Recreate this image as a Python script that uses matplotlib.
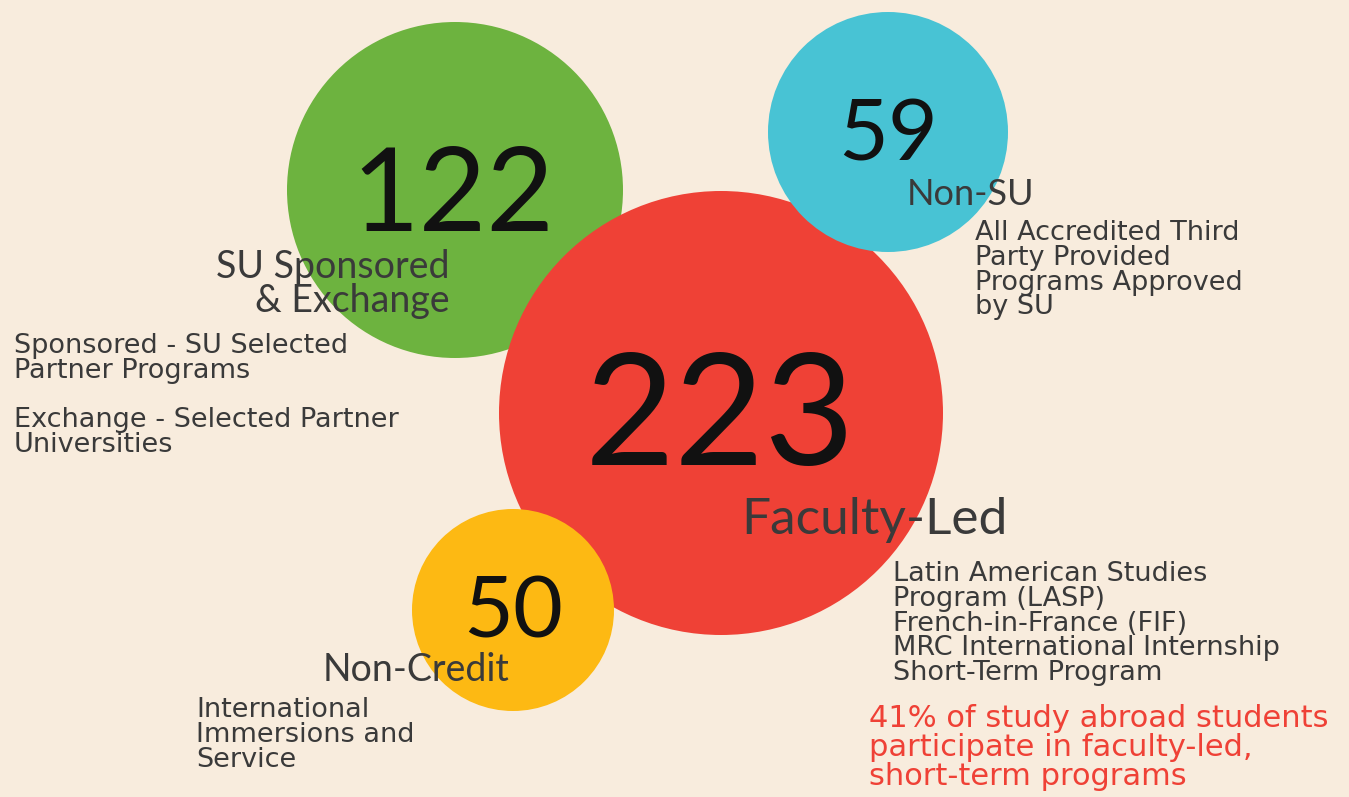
import matplotlib.pyplot as plt
from matplotlib.patches import Circle

plt.rcParams['font.family'] = ['Lato', 'DejaVu Sans']

# data
values = [122, 223, 59, 50]
labels = ['SU Sponsored\n& Exchange', 'Faculty-Led', 'Non-SU', 'Non-Credit']
notes = [
    'Sponsored - SU Selected\nPartner Programs\n\nExchange - Selected Partner\nUniversities',
    'Latin American Studies\nProgram (LASP)\nFrench-in-France (FIF)\nMRC International Internship\nShort-Term Program',
    'All Accredited Third\nParty Provided\nPrograms Approved\nby SU',
    'International\nImmersions and\nService',
]
callout = '41% of study abroad students\nparticipate in faculty-led,\nshort-term programs'

# layout (pixel coordinates, y down)
centers = [(455, 190), (721, 413), (888, 132), (513, 610)]
radii = [168, 222, 120, 101]
colors = ['#6db33f', '#ef4136', '#48c3d4', '#fdb913']
num_sizes = [84, 112, 62, 62]
num_pos = [(453, 198), (720, 421), (888, 136), (513, 613)]
lab_pos = [(450, 284, 'right'), (741, 520, 'left'), (907, 194, 'left'), (323, 670, 'left')]
lab_sizes = [27, 37, 26, 27]
note_pos = [(14, 333), (893, 561), (975, 220), (196, 697)]

bg = '#f8ecdd'
dark = '#3a3a3a'

fig = plt.figure(figsize=(13.49, 7.97), dpi=100, facecolor=bg)
ax = fig.add_axes([0, 0, 1, 1])
ax.set_facecolor(bg)
ax.set_xlim(0, 1349)
ax.set_ylim(797, 0)
ax.axis('off')

for (cx, cy), r, c in zip(centers, radii, colors):
    ax.add_patch(Circle((cx, cy), r, facecolor=c, edgecolor='none'))

for v, (x, y), fs in zip(values, num_pos, num_sizes):
    ax.text(x, y, str(v), fontsize=fs, color='#111111', ha='center', va='center')

for lab, (x, y, ha), fs in zip(labels, lab_pos, lab_sizes):
    ax.text(x, y, lab, fontsize=fs, color=dark, ha=ha, va='center',
            linespacing=0.95)

for note, (x, y) in zip(notes, note_pos):
    ax.text(x, y, note, fontsize=19.5, color=dark, ha='left', va='top',
            linespacing=0.94, family='DejaVu Sans')

ax.text(869, 704, callout, fontsize=22, color='#ef4136', ha='left', va='top',
        linespacing=1.0, family='DejaVu Sans')

fig.savefig('out.png', dpi=100, facecolor=bg)
